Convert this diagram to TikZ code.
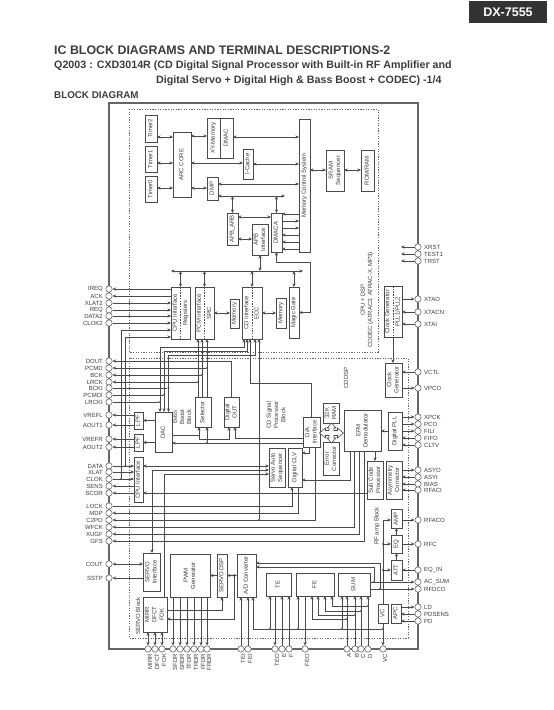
\documentclass[tikz,border=0pt]{standalone}
\usepackage{graphicx}
\usepackage{fontspec}
\setmainfont{Liberation Sans}
\usetikzlibrary{shapes,arrows.meta,positioning,fit,calc}
\definecolor{inkgrey}{HTML}{3C3C3C}
\definecolor{linegrey}{HTML}{4A4A4A}
\definecolor{framegrey}{HTML}{666666}
\tikzset{
	blockbox/.style={rectangle, draw=linegrey, line width=0.7pt, fill=white, inner sep=0pt, outer sep=0pt,
		text=inkgrey, font=\fontsize{6}{7.4}\selectfont},
	sigarr/.style={-{Stealth[length=3.6pt,width=3.2pt]}, draw=linegrey, line width=0.6pt},
	bidarr/.style={{Stealth[length=3.6pt,width=3.2pt]}-{Stealth[length=3.6pt,width=3.2pt]}, draw=linegrey, line width=0.6pt},
	plainline/.style={draw=linegrey, line width=0.6pt},
	dividerline/.style={draw=linegrey, line width=0.5pt, dash pattern=on 1.5pt off 1.2pt},
	dotframe/.style={draw=framegrey, line width=0.6pt, dash pattern=on 1.2pt off 1.4pt},
	chipframe/.style={draw=framegrey, line width=1.1pt},
	dotnode/.style={circle, fill=linegrey, inner sep=0pt, minimum size=2.4pt},
	pinnode/.style={circle, draw=framegrey, line width=0.6pt, fill=white, inner sep=0pt, minimum size=6.4pt},
	pinlabel/.style={text=inkgrey, font=\fontsize{6}{7}\selectfont, inner sep=1pt},
	pinleft/.style={pinnode, label={[pinlabel, label distance=1.5pt]left:#1}},
	pinright/.style={pinnode, label={[pinlabel, label distance=1.5pt]right:#1}},
	pinbottom/.style={pinnode, label={[pinlabel, rotate=90, anchor=east, label distance=2pt]-90:#1}},
	areatext/.style={text=inkgrey, font=\fontsize{6}{7.2}\selectfont, align=center, rotate=90, inner sep=0pt},
	headtext/.style={anchor=west, text=inkgrey, inner sep=0pt, font=\bfseries\fontsize{#1}{#1}\selectfont}
}
\newcommand{\vtxt}[1]{\rotatebox{90}{\begin{tabular}{@{}c@{}}#1\end{tabular}}}
\newcommand{\chipblock}[6]{\node[blockbox, minimum width={(#4-#2)*1pt}, minimum height={(#5-#3)*1pt}] (#1) at ({(#2+#4)/2},{(#3+#5)/2}) {\vtxt{#6}};}

\begin{document}
\begin{tikzpicture}[x=1pt, y=-1pt]
	\useasboundingbox (0,0) rectangle (554,710);
	\node[fill=black!80, text=white, font=\bfseries\fontsize{12.5}{13}\selectfont, minimum width=78pt, minimum height=22pt, inner sep=0pt] (model) at (508,12) {DX-7555};
	\node[headtext=12.4] (title) at (54,50) {IC BLOCK DIAGRAMS AND TERMINAL DESCRIPTIONS-2};
	\node[headtext=10.7] (subone) at (54,66) {Q2003 : CXD3014R (CD Digital Signal Processor with Built-in RF Amplifier and};
	\node[headtext=10.7] (subtwo) at (156,81) {Digital Servo + Digital High \& Bass Boost + CODEC) -1/4};
	\node[headtext=9.8] (subhead) at (54,95) {BLOCK DIAGRAM};

	\draw[chipframe] (109,103) rectangle (418,649);
	\draw[dotframe] (129,109) rectangle (378,352);
	\draw[dotframe] (129,358) rectangle (408,638);

	\chipblock{timertwo}{145}{115}{157}{142}{Timer2}
	\chipblock{timerone}{145}{146}{157}{172}{Timer1}
	\chipblock{timerzero}{145}{176}{157}{202}{Timer0}
	\chipblock{arc}{173}{132}{191}{197}{ARC CORE}
	\chipblock{xymem}{207}{118}{220}{158}{XY-Memory}
	\chipblock{dmac}{220}{118}{233}{158}{DMAC}
	\chipblock{icache}{243}{149}{253}{179}{I-Cache}
	\chipblock{dmp}{207}{177}{218}{200}{DMP}
	\chipblock{mcs}{299}{119}{310}{252}{Memory Control System}
	\chipblock{sram}{326}{150}{344}{191}{SRAM\\Sequencer}
	\chipblock{romram}{361}{150}{374}{191}{ROM/RAM}
	\chipblock{aarb}{227}{213}{238}{245}{APB\_ARB}
	\chipblock{apbif}{252}{224}{268}{255}{APB\\Interface}
	\chipblock{dmaca}{271}{213}{282}{252}{DMACA}
	\chipblock{cpuif}{171}{287}{190}{339}{CPU Interface\\[3pt]Registers}
	\chipblock{pcmif}{195}{287}{214}{339}{PCM Interface\\[3pt]SRC}
	\chipblock{memone}{230}{299}{239}{328}{Memory}
	\chipblock{cdif}{242}{287}{262}{339}{CD Interface\\[3pt]ECC}
	\chipblock{memtwo}{276}{298}{286}{328}{Memory}
	\chipblock{magic}{289}{287}{299}{338}{Magic Gate}
	\chipblock{clockgen}{384}{286}{402}{337}{Clock Generator\\[3pt]PLL1/PLL2}
	\chipblock{clklow}{385}{363}{402}{397}{Clock\\Generator}
	\chipblock{selector}{195}{397}{211}{427}{Selector}
	\chipblock{digout}{224}{397}{239}{427}{Digital\\OUT}
	\chipblock{dac}{155}{412}{172}{452}{DAC}
	\chipblock{lpfl}{134}{412}{143}{429}{LPF}
	\chipblock{lpfr}{134}{434}{143}{451}{LPF}
	\chipblock{cpulow}{134}{457}{143}{502}{CPU Interface}
	\chipblock{daif}{303}{417}{320}{447}{D/A\\Interface}
	\chipblock{ramblk}{323}{403}{339}{423}{32K\\RAM}
	\chipblock{errcor}{323}{442}{339}{475}{Error\\Corrector}
	\chipblock{epm}{344}{410}{381}{451}{EFM\\Demodulator}
	\chipblock{dpll}{388}{412}{402}{450}{Digital PLL}
	\chipblock{seq}{269}{448}{285}{487}{Servo Auto\\Sequencer}
	\chipblock{clv}{288}{448}{302}{487}{Digital CLV}
	\chipblock{subcode}{367}{461}{383}{499}{Sub Code\\Processor}
	\chipblock{asym}{386}{461}{402}{499}{Asymmetry\\Corrector}
	\chipblock{amp}{391}{509}{402}{528}{AMP}
	\chipblock{eq}{391}{535}{402}{553}{EQ}
	\chipblock{att}{391}{560}{402}{580}{ATT}
	\chipblock{servoif}{143}{553}{160}{591}{SERVO\\Interface}
	\chipblock{mirr}{143}{597}{167}{632}{MIRR\\DFCT\\FOK}
	\chipblock{pwm}{170}{554}{210}{597}{PWM\\Generator}
	\chipblock{sdsp}{217}{554}{227}{597}{SERVO DSP}
	\chipblock{adc}{237}{554}{256}{597}{A/D Converter}
	\chipblock{teblk}{266}{573}{291}{596}{TE}
	\chipblock{feblk}{296}{573}{334}{596}{FE}
	\chipblock{sumblk}{338}{573}{370}{596}{SUM}
	\chipblock{vcbox}{378}{604}{388}{623}{VC}
	\chipblock{apc}{391}{604}{401}{623}{APC}

	\foreach \blk in {cpuif,pcmif,cdif,clockgen}
		\draw[dividerline] (\blk.north) -- (\blk.south);

	\node[areatext] (bassarea) at (182,417) {Bass\\Boost\\Block};
	\node[areatext] (cdarea) at (276,415) {CD Signal\\Processor\\Block};
	\node[areatext] (dsparea) at (346,378) {CDDSP};
	\node[areatext] (cpuarea) at (367,300) {CPU + DSP\\CODEC (ATRAC3, ATRAC-X, MP3)};
	\node[areatext] (rfarea) at (377,526) {RF amp Block};
	\node[areatext] (servoarea) at (138,616) {SERVO Block};

	\foreach \pname/\py in {IREQ/289,ACK/296,XLAT2/303,REQ/310,DATA2/316,CLOK2/323,DOUT/361,PCMD/368,BCK/375,LRCK/382,BCKI/388,PCMDI/395,LRCKI/402,VREFL/415,AOUT1/425,VREFR/439,AOUT2/447,DATA/466,XLAT/472,CLOK/479,SENS/486,SCOR/493,LOCK/506,MDP/513,C2PO/520,WFCK/527,XUGF/534,GFS/541,COUT/564,SSTP/578}
		\node[pinleft=\pname] (\pname) at (109,\py) {};
	\foreach \pname/\ptxt/\py in {XRST/XRST/247,TEST1/TEST1/254,TRST/TRST/261,XTAO/XTAO/299,XTACN/XTACN/312,XTAI/XTAI/324,VCTL/VCTL/372,VPCO/VPCO/388,XPCK/XPCK/417,PCO/PCO/424,FILI/FILI/431,FIFO/FIFO/438,CLTV/CLTV/445,ASYO/ASYO/470,ASYI/ASYI/477,BIAS/BIAS/484,RFACI/RFACI/490,RFACO/RFACO/520,RFC/RFC/544,EQIN/EQ\_IN/570,ACSUM/AC\_SUM/582,RFDCO/RFDCO/589,LD/LD/607,PDSENS/PDSENS/614,PD/PD/621}
		\node[pinright=\ptxt] (\pname) at (418,\py) {};
	\foreach \pname/\px in {MIRR/148,DFCT/155,FOK/162,SFDR/173,SRDR/180,TFDR/187,TRDR/194,FFDR/201,FRDR/207,TEI/241,FEI/248,TEO/275,E/282,F/289,FEO/305,A/347,B/355,C/361,D/368,VC/383}
		\node[pinbottom=\pname] (\pname) at (\px,649) {};

	\foreach \from/\to/\yy in {timertwo/arc/137,timerone/arc/163,timerzero/arc/188,arc/xymem/136,dmac/mcs/137,arc/icache/163,icache/mcs/164,arc/dmp/188,dmp/mcs/184,mcs/sram/170,sram/romram/170,aarb/dmaca/217,aarb/apbif/239,pcmif/memone/313,cdif/memtwo/313}
		\draw[bidarr] (\from.east |- 0,\yy) -- (\to.west |- 0,\yy);
	\foreach \yy in {214,235,242,249}
		\draw[sigarr] (mcs.west |- 0,\yy) -- (dmaca.east |- 0,\yy);
	\foreach \yy in {221,228}
		\draw[sigarr] (dmaca.east |- 0,\yy) -- (mcs.west |- 0,\yy);
	\coordinate (dmpbus) at (285,196);
	\coordinate (busleft) at (171,271);
	\coordinate (busright) at (303,271);
	\coordinate (gatecorner) at (310,262);
	\draw[bidarr] (dmp.east |- dmpbus) -- (dmpbus);
	\draw[bidarr] (aarb.north) -- (aarb.north |- dmpbus);
	\draw[bidarr] (dmaca.north) -- (dmaca.north |- dmpbus);
	\draw[bidarr] (magic.east) -| (gatecorner) -| (dmaca.south);
	\draw[bidarr] (busleft) -- (busright);
	\draw[bidarr] (apbif.south) -- (apbif.south |- busleft);
	\foreach \blk in {cpuif,pcmif,cdif,magic}
		\draw[bidarr] (\blk.north) -- (\blk.north |- busleft);

	\foreach \pin in {IREQ,ACK}
		\draw[sigarr] (cpuif.west |- \pin) -- (\pin);
	\foreach \pin in {XLAT2,REQ,DATA2,CLOK2}
		\draw[sigarr] (\pin) -- (cpuif.west |- \pin);
	\node[dotnode] (jclok) at (121,479) {};
	\node[dotnode] (jdata) at (125.5,466) {};
	\draw[sigarr] (jclok) |- (cpuif.west |- 0,330);
	\draw[sigarr] (jdata) |- (cpuif.west |- 0,337);
	\foreach \pin in {DATA,XLAT,CLOK}
		\draw[sigarr] (\pin) -- (cpulow.west |- \pin);
	\foreach \pin in {SENS,SCOR}
		\draw[sigarr] (cpulow.west |- \pin) -- (\pin);

	\node[dotnode] (jpcmd) at (207,368) {};
	\node[dotnode] (jbck) at (202,375) {};
	\node[dotnode] (jlrck) at (198,382) {};
	\foreach \pin/\jun in {PCMD/jpcmd,BCK/jbck,LRCK/jlrck}{
		\draw[sigarr] (\jun) -- (\pin);
		\draw[sigarr] (\jun |- selector.north) -- (\jun |- pcmif.south);
	}
	\draw[sigarr] (digout.north) |- (DOUT);
	\node[dotnode] (jbcki) at (168.5,388) {};
	\node[dotnode] (jpcmdi) at (164,395) {};
	\node[dotnode] (jlrcki) at (160,402) {};
	\foreach \pin/\jun in {BCKI/jbcki,PCMDI/jpcmdi,LRCKI/jlrcki}
		\draw[plainline] (\pin) -- (\jun);
	\coordinate (ecca) at (244,347);
	\coordinate (eccb) at (247,351);
	\coordinate (eccc) at (255,355);
	\coordinate (eccd) at (250,383);
	\foreach \turn/\jun in {ecca/jlrcki,eccb/jpcmdi,eccc/jbcki}
		\draw[bidarr] (\turn |- cdif.south) -- (\turn) -| (\jun |- dac.north);
	\draw[sigarr] (daif.north) |- (eccd) -- (eccd |- cdif.south);
	\node[dotnode] (jcpo) at (259,520) {};
	\draw[sigarr] (jcpo) -- (jcpo |- cdif.south);

	\foreach \pin/\blk in {VREFL/lpfl,AOUT1/lpfl,VREFR/lpfr,AOUT2/lpfr}
		\draw[sigarr] (\blk.west |- \pin) -- (\pin);
	\draw[sigarr] (dac.west |- lpfl.east) -- (lpfl.east);
	\draw[sigarr] (dac.west |- lpfr.east) -- (lpfr.east);
	\coordinate (selin) at (199,435);
	\coordinate (digturn) at (229,439);
	\coordinate (digin) at (235,438);
	\node[dotnode] (jdac) at (207,443) {};
	\draw[sigarr] (dac.east |- selin) -| (selin |- selector.south);
	\draw[sigarr] (selin |- selector.south) |- (digturn) -- (digturn |- digout.south);
	\draw[sigarr] (daif.west |- digin) -- (digin) -- (digin |- digout.south);
	\draw[sigarr] (daif.west |- jdac) -- (dac.east |- jdac);
	\draw[sigarr] (jdac) -- (jdac |- selector.south);

	\coordinate (srvturn) at (152,470);
	\coordinate (mirrturn) at (164,474);
	\draw[bidarr] (cpulow.east |- 0,466) -- (seq.west |- 0,466);
	\draw[bidarr] (seq.west |- srvturn) -- (srvturn) -- (srvturn |- servoif.north);
	\draw[sigarr] (mirrturn |- mirr.north) |- (seq.west |- mirrturn);
	\draw[sigarr] (subcode.west |- SCOR) -- (cpulow.east |- SCOR);
	\draw[sigarr] (LOCK) -| ([xshift=-3pt]clv.south);
	\draw[sigarr] ([xshift=3pt]clv.south) |- (MDP);
	\draw[sigarr] ([xshift=3.5pt]daif.south) |- (C2PO);
	\draw[sigarr] ([xshift=-8.5pt]epm.south) |- (WFCK);
	\draw[sigarr] ([xshift=-3.5pt]epm.south) |- (XUGF);
	\draw[sigarr] ([xshift=1.5pt]epm.south) |- (GFS);
	\draw[sigarr] ([xshift=-12.5pt]epm.south) |- (clv.east |- 0,480);
	\draw[sigarr] ([xshift=-2.5pt]daif.south) |- (clv.east |- 0,453);
	\draw[sigarr] (subcode.north |- epm.south) -- (subcode.north);
	\draw[sigarr] (dpll.west) -- (dpll.west -| epm.east);
	\begin{scope}[shift={(331.5,433)}]
		\draw[draw=linegrey, line width=0.6pt, fill=white] (-12,0) -- (-6,-5) -- (-6,-2.5) -- (-2.5,-2.5) -- (-2.5,-5) -- (-4.5,-5) -- (0,-10) -- (4.5,-5) -- (2.5,-5) -- (2.5,-2.5) -- (6,-2.5) -- (6,-5) -- (12,0) -- (6,5) -- (6,2.5) -- (2.5,2.5) -- (2.5,5) -- (4.5,5) -- (0,10) -- (-4.5,5) -- (-2.5,5) -- (-2.5,2.5) -- (-6,2.5) -- (-6,5) -- cycle;
	\end{scope}

	\coordinate (rstend) at (401,0);
	\foreach \pin in {XRST,TEST1,TRST}
		\draw[sigarr] (\pin) -- (rstend |- \pin);
	\foreach \pin/\blk in {XTAO/clockgen,VPCO/clklow,XPCK/dpll,PCO/dpll,FILI/dpll,ASYO/asym,RFACO/amp,RFC/eq,ACSUM/sumblk,RFDCO/sumblk,LD/apc}
		\draw[sigarr] (\blk.east |- \pin) -- (\pin);
	\foreach \pin/\blk in {XTACN/clockgen,XTAI/clockgen,VCTL/clklow,FIFO/dpll,CLTV/dpll,ASYI/asym,BIAS/asym,RFACI/asym,EQIN/att,PDSENS/apc,PD/apc}
		\draw[sigarr] (\pin) -- (\blk.east |- \pin);
	\draw[sigarr] (clockgen.south) -- (clockgen.south |- clklow.north);
	\node[dotnode] (jeq) at (383,544) {};
	\node[dotnode] (jatt) at (383,570) {};
	\draw[sigarr] (vcbox.north) |- (amp.west |- RFACO);
	\draw[sigarr] (jeq) -- (eq.west |- jeq);
	\draw[sigarr] (jatt) -- (att.west |- jatt);
	\draw[sigarr] (eq.north) -- (amp.south);
	\draw[sigarr] (att.north) -- (eq.south);

	\draw[bidarr] (COUT) -- (servoif.west |- COUT);
	\draw[sigarr] (servoif.west |- SSTP) -- (SSTP);
	\foreach \pin in {MIRR,DFCT,FOK}
		\draw[bidarr] (\pin |- mirr.south) -- (\pin);
	\foreach \pin in {SFDR,SRDR,TFDR,TRDR,FFDR,FRDR}
		\draw[sigarr] (\pin |- pwm.south) -- (\pin);
	\draw[sigarr] (sdsp.west) -- (sdsp.west -| pwm.east);
	\draw[bidarr] (sdsp.east) -- (adc.west);
	\node[dotnode] (jsrv) at (234,575.5) {};
	\draw[sigarr] (jsrv) |- (mirr.east |- 0,619);
	\draw[sigarr] (mirr.east |- 0,610) -| (sdsp.south);
	\foreach \pin in {TEI,FEI}
		\draw[sigarr] (\pin) -- (\pin |- adc.south);

	\node[dotnode] (jte) at (270,629) {};
	\node[dotnode] (jfe) at (298,629) {};
	\node[dotnode] (jsum) at (342,629) {};
	\node[dotnode] (jvc) at (383,629) {};
	\draw[sigarr] (jvc) -| ([xshift=6.5pt]adc.south);
	\draw[sigarr] (jte) -- (jte |- teblk.south);
	\draw[sigarr] (jfe) -- (jfe |- feblk.south);
	\draw[sigarr] (jsum) -- (jsum |- sumblk.south);
	\draw[sigarr] (vcbox.south) -- (VC);
	\draw[sigarr] (TEO |- teblk.south) -- (TEO);
	\draw[sigarr] (FEO |- feblk.south) -- (FEO);
	\foreach \pin in {E,F}
		\draw[sigarr] (\pin) -- (\pin |- teblk.south);
	\foreach \pin in {A,B,C,D}
		\draw[sigarr] (\pin) -- (\pin |- sumblk.south);
	\foreach \pin/\fx/\fy in {A/312/619,B/318/615,C/325/611,D/332/606}{
		\node[dotnode] (j\pin) at (\pin |- 0,\fy) {};
		\draw[sigarr] (j\pin) -| (\fx,0 |- feblk.south);
	}
	\node[dotnode] (jacsum) at (374,582) {};
	\node[dotnode] (jrfdco) at (380,589) {};
	\draw[sigarr] (jacsum) |- (adc.east |- 0,567);
	\draw[sigarr] (jrfdco) |- (adc.east |- 0,563);
\end{tikzpicture}
\end{document}
